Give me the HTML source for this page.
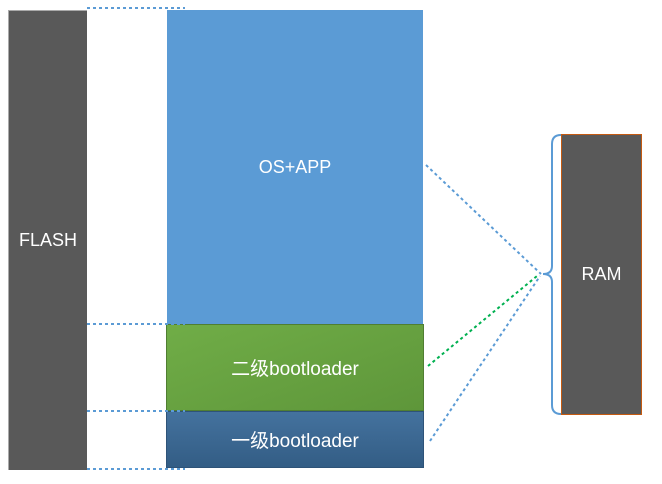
<!DOCTYPE html>
<html><head><meta charset="utf-8"><style>
body{margin:0;width:662px;height:484px;background:#fff;overflow:hidden;position:relative;font-family:"Liberation Sans","Noto Sans CJK SC",sans-serif}
.b{position:absolute;color:#fff;display:flex;align-items:center;justify-content:center;font-size:18px}
</style></head><body>
<div class="b" style="left:8px;top:10px;width:79px;height:460px;background:#595959;border-left:1px solid #aaa;border-top:1px solid #aaa;box-sizing:border-box">FLASH</div>
<div class="b" style="left:167px;top:10px;width:256px;height:314px;background:#5b9bd5">OS+APP</div>
<div class="b" style="left:166px;top:324px;width:258px;height:87px;background:linear-gradient(160deg,#70ad47,#5e963a);border:1px solid #507e32;box-sizing:border-box;font-size:19px">二级bootloader</div>
<div class="b" style="left:166px;top:411px;width:258px;height:57px;background:linear-gradient(#44729e,#335d85);border:1px solid #2e5378;box-sizing:border-box;font-size:19px">一级bootloader</div>
<div class="b" style="left:561px;top:134px;width:81px;height:281px;background:#595959;border:1px solid #c55a11;box-sizing:border-box">RAM</div>
<svg width="662" height="484" style="position:absolute;left:0;top:0">
<g stroke="#5b9bd5" stroke-width="2" stroke-dasharray="3,3" fill="none">
<line x1="87" y1="8" x2="185" y2="8"/>
<line x1="87" y1="324" x2="185" y2="324"/>
<line x1="87" y1="411" x2="185" y2="411"/>
<line x1="87" y1="469" x2="185" y2="469"/>
<line x1="426" y1="165" x2="541" y2="274"/>
<line x1="430" y1="441" x2="540" y2="276"/>
</g>
<line x1="428" y1="366" x2="537" y2="276" stroke="#00b050" stroke-width="2" stroke-dasharray="3,3"/>
<path d="M561 135 Q552 135 552 144 L552 266 Q552 274 543 274 Q552 274 552 282 L552 405 Q552 414 561 414" stroke="#5b9bd5" stroke-width="2" fill="none"/>
</svg>
</body></html>
